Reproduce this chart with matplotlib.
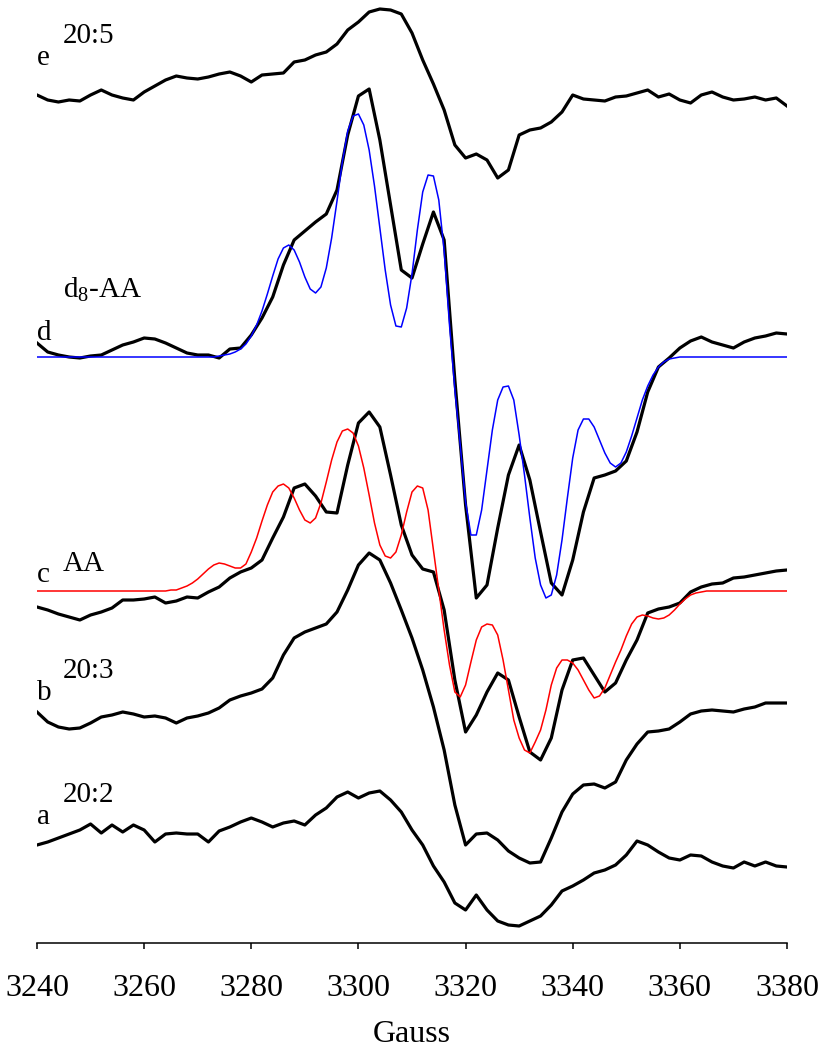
import numpy as np
import matplotlib.pyplot as plt

plt.rcParams['font.family'] = ['Liberation Serif', 'DejaVu Serif']
plt.rcParams['mathtext.fontset'] = 'custom'
plt.rcParams['mathtext.rm'] = 'Liberation Serif'

# ---- data: stacked EPR spectra, intensity in a.u. (offsets already included) ----
# measured traces are read every 2 G, simulations every 1 G
field_exp = np.arange(3240, 3381, 2)
field_sim = np.arange(3240, 3381, 1)

spec_e = [905, 900, 898, 900, 899, 905, 910, 905, 902, 900,
          908, 914, 920, 924, 922, 921, 923, 926, 928, 924,
          918, 925, 926, 927, 938, 940, 945, 948, 956, 970,
          978, 988, 991, 990, 986, 967, 940, 916, 890, 855,
          842, 846, 840, 822, 830, 865, 870, 872, 878, 888,
          905, 901, 900, 899, 903, 904, 907, 910, 903, 906,
          900, 897, 905, 908, 903, 900, 901, 903, 900, 902, 894]

spec_d = [657, 648, 645, 643, 642, 644, 645, 650, 655, 658,
          662, 661, 657, 652, 647, 645, 645, 642, 651, 652,
          665, 682, 703, 735, 760, 769, 778, 786, 810, 865,
          904, 911, 860, 795, 730, 722, 756, 788, 760, 620,
          495, 402, 415, 472, 525, 555, 520, 468, 417, 405,
          440, 488, 522, 525, 529, 539, 568, 608, 633, 642,
          652, 659, 663, 658, 655, 652, 658, 662, 664, 667, 666]

spec_c = [393, 390, 386, 383, 380, 385, 388, 392, 400, 400,
          401, 403, 397, 399, 403, 402, 408, 413, 422, 428,
          432, 440, 462, 483, 512, 516, 504, 488, 487, 535,
          577, 588, 573, 525, 475, 445, 431, 428, 390, 320,
          268, 285, 308, 327, 320, 283, 248, 240, 262, 310,
          340, 342, 325, 308, 317, 340, 360, 387, 391, 393,
          397, 408, 413, 416, 417, 422, 423, 425, 427, 429, 430]

spec_b = [288, 278, 273, 271, 272, 277, 283, 285, 288, 286,
          283, 284, 282, 277, 282, 284, 287, 292, 300, 304,
          307, 311, 322, 345, 362, 368, 372, 376, 388, 410,
          435, 447, 440, 417, 390, 362, 330, 293, 250, 195,
          155, 166, 167, 160, 149, 142, 137, 138, 162, 188,
          206, 215, 216, 212, 218, 240, 256, 268, 269, 271,
          278, 286, 289, 290, 289, 288, 291, 293, 297, 297, 297]

spec_a = [155, 158, 162, 166, 170, 176, 167, 175, 168, 175,
          170, 158, 166, 167, 166, 166, 158, 169, 173, 178,
          182, 178, 173, 177, 179, 175, 185, 192, 203, 208,
          202, 207, 209, 200, 188, 170, 155, 134, 118, 97,
          90, 105, 90, 79, 75, 74, 79, 84, 95, 109,
          114, 120, 127, 130, 135, 145, 159, 155, 148, 142,
          140, 145, 144, 138, 134, 132, 138, 134, 138, 134, 133]

# simulation for d8-AA (blue)
sim_d = [643, 643, 643, 643, 643, 643, 643, 643, 643, 643,
         643, 643, 643, 643, 643, 643, 643, 643, 643, 643,
         643, 643, 643, 643, 643, 643, 643, 643, 643, 643,
         643, 643, 643, 643, 644, 645, 646, 648, 651, 656,
         664, 675, 689, 706, 724, 741, 752, 755, 750, 738,
         723, 711, 707, 713, 732, 762, 799, 838, 869, 884,
         886, 875, 850, 814, 772, 730, 695, 674, 673, 692,
         726, 770, 808, 825, 824, 800, 749, 675, 610, 555,
         498, 465, 465, 490, 530, 570, 600, 613, 614, 600,
         565, 525, 482, 442, 415, 402, 405, 425, 460, 502,
         542, 570, 581, 581, 573, 560, 547, 537, 533, 537,
         548, 564, 582, 600, 614, 625, 633, 638, 641, 642,
         643, 643, 643, 643, 643, 643, 643, 643, 643, 643,
         643, 643, 643, 643, 643, 643, 643, 643, 643, 643, 643]

# simulation for AA (red)
sim_c = [409, 409, 409, 409, 409, 409, 409, 409, 409, 409,
         409, 409, 409, 409, 409, 409, 409, 409, 409, 409,
         409, 409, 409, 409, 409, 410, 410, 412, 414, 417,
         421, 426, 431, 435, 437, 436, 434, 432, 432, 436,
         448, 462, 479, 495, 508, 514, 516, 512, 502, 490,
         480, 477, 482, 497, 518, 540, 558, 569, 571, 567,
         554, 532, 505, 477, 455, 444, 442, 448, 465, 488,
         508, 514, 512, 490, 450, 410, 370, 335, 308, 303,
         315, 338, 360, 373, 376, 375, 365, 340, 310, 280,
         262, 250, 247, 258, 270, 290, 315, 332, 340, 340,
         337, 330, 320, 310, 302, 304, 312, 325, 338, 350,
         364, 376, 383, 385, 384, 382, 381, 382, 385, 390,
         396, 401, 405, 407, 408, 409, 409, 409, 409, 409,
         409, 409, 409, 409, 409, 409, 409, 409, 409, 409, 409]

letters = ['e', 'd', 'c', 'b', 'a']
names = ['20:5', r'd$_\mathrm{8}$-AA', 'AA', '20:3', '20:2']

# ---- layout ----
fig = plt.figure(figsize=(8.22, 10.5), dpi=100)
ax = fig.add_axes([37 / 822, 107 / 1050, 750 / 822, 943 / 1050])

for spec in [spec_e, spec_d, spec_c, spec_b, spec_a]:
    ax.plot(field_exp, spec, color='black', lw=2.3, solid_joinstyle='round')
ax.plot(field_sim, sim_d, color='#0000ff', lw=1.1)
ax.plot(field_sim, sim_c, color='#ff0000', lw=1.1)

# trace labels (letter + sample name, name raised a bit)
letter_y = [935, 660, 418, 300, 176]
name_y = [957, 703, 429, 322, 198]
for let, nm, ly, ny in zip(letters, names, letter_y, name_y):
    ax.text(3240, ly, let, fontsize=21, va='baseline', ha='left')
    ax.text(3244.8, ny, nm, fontsize=21, va='baseline', ha='left')

ax.set_xlim(3240, 3380)
ax.set_ylim(57, 1000)
ax.set_xticks(np.arange(3240, 3381, 20))
ax.tick_params(axis='x', direction='out', length=4.5, width=1.1, labelsize=23, pad=18)
ax.set_yticks([])
for side in ['left', 'right', 'top']:
    ax.spines[side].set_visible(False)
ax.spines['bottom'].set_linewidth(1.1)
ax.set_xlabel('Gauss', fontsize=23, labelpad=12)

fig.savefig('out.png', dpi=100)
